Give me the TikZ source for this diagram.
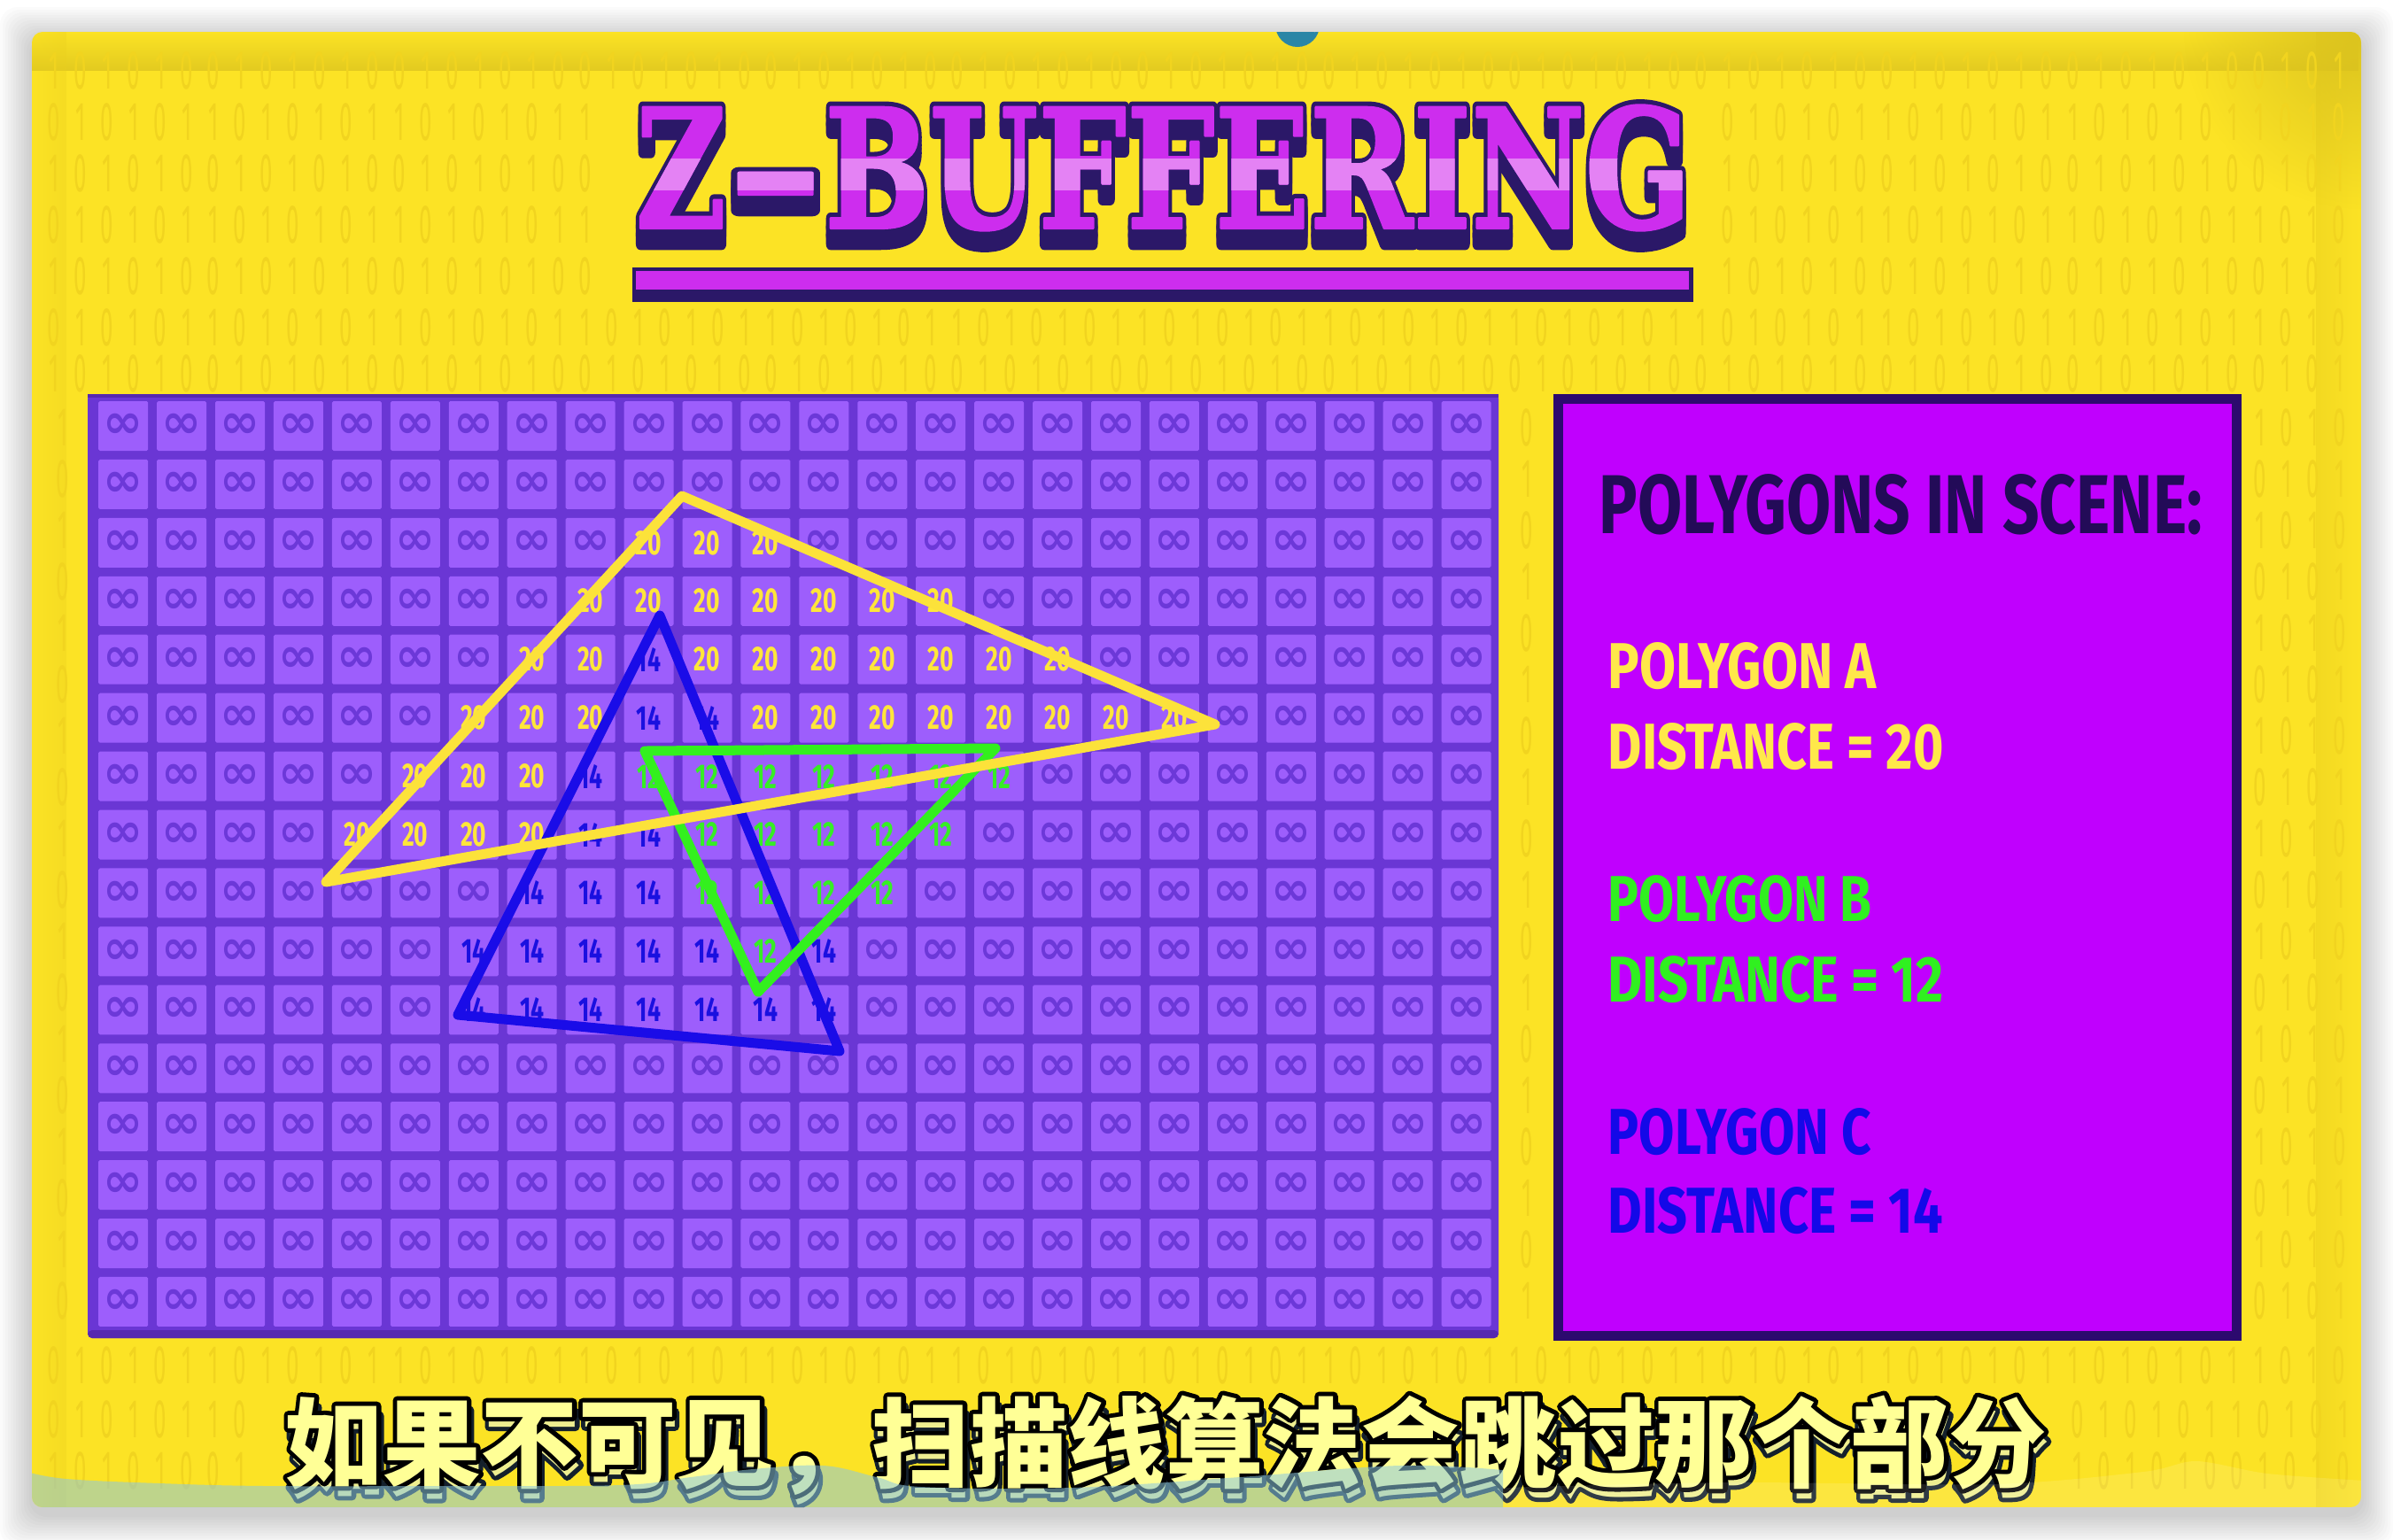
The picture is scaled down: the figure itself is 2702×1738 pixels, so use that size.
\documentclass[tikz,border=0pt]{standalone}
\usepackage{fontspec}
\usetikzlibrary{calc,fadings}
\newfontfamily\zcjk{Noto Sans CJK SC}
\newfontfamily\zcjkO{Noto Sans CJK SC}[FakeBold=9]
\newfontfamily\zfira{Fira Sans}
\newfontfamily\znum{Fira Sans}[FakeStretch=0.68]
\newfontfamily\zbin{Fira Sans}[FakeStretch=0.42, Numbers=Lining]
\newfontfamily\zdv{DejaVu Sans}
\newfontfamily\ztitle{DejaVu Serif}[FakeBold=1.5]
\newfontfamily\ztitleO{DejaVu Serif}[FakeBold=7]
\definecolor{bgy}{HTML}{FCE325}
\definecolor{bgtop}{HTML}{D8C01E}
\definecolor{bgside}{HTML}{EACF1E}
\definecolor{binc}{HTML}{F1D41F}
\definecolor{framec}{HTML}{6A36D4}
\definecolor{framed}{HTML}{5628B0}
\definecolor{cellc}{HTML}{9D5EFC}
\definecolor{infc}{HTML}{6C38D8}
\definecolor{z20}{HTML}{FFE63A}
\definecolor{z12}{HTML}{36EE24}
\definecolor{z14}{HTML}{1A10E0}
\definecolor{triY}{HTML}{FCE23A}
\definecolor{triG}{HTML}{33F01E}
\definecolor{triB}{HTML}{1A0CE8}
\definecolor{panelc}{HTML}{C000FE}
\definecolor{paneld}{HTML}{2C0A6E}
\definecolor{headc}{HTML}{230B58}
\definecolor{titlec}{HTML}{CD2DEE}
\definecolor{titlehl}{HTML}{E482F4}
\definecolor{titled}{HTML}{2B1868}
\definecolor{subfill}{HTML}{FFFF96}
\definecolor{subshfill}{HTML}{EEEE90}
\definecolor{subshadow}{HTML}{14202C}
\definecolor{hillc}{HTML}{8CC8E0}
\definecolor{blobc}{HTML}{2A86A6}
\definecolor{panY}{HTML}{FFE84A}
\definecolor{panG}{HTML}{30F020}
\definecolor{panB}{HTML}{1408E8}
\tikzfading[name=zfade, inner color=transparent!0, outer color=transparent!100]

% grid values
\def\setrow#1#2#3#4{\foreach \cc in {#2,...,#3}{\expandafter\xdef\csname zv-\cc-#1\endcsname{#4}}}
\setrow{2}{9}{11}{20}
\setrow{3}{8}{14}{20}
\setrow{4}{7}{8}{20}\setrow{4}{9}{9}{14}\setrow{4}{10}{16}{20}
\setrow{5}{6}{8}{20}\setrow{5}{9}{10}{14}\setrow{5}{11}{18}{20}
\setrow{6}{5}{7}{20}\setrow{6}{8}{8}{14}\setrow{6}{9}{15}{12}
\setrow{7}{4}{7}{20}\setrow{7}{8}{9}{14}\setrow{7}{10}{14}{12}
\setrow{8}{7}{9}{14}\setrow{8}{10}{13}{12}
\setrow{9}{6}{10}{14}\setrow{9}{11}{11}{12}\setrow{9}{12}{12}{14}
\setrow{10}{6}{12}{14}

% a run of #1 binary digits, pattern seed #2
\newcommand\zbits[2]{\foreach \q in {1,...,#1}{\pgfmathtruncatemacro\zb{mod(\q+#2+floor(\q/7),2)}\makebox[9pt]{\zb}}}
\def\subtxt{如果不可见，扫描线算法会跳过那个部分}
\def\ttlbody{Z\scalebox{1.9}[1]{-}BUFFERING}

\begin{document}
\begin{tikzpicture}[x=0.3pt,y=-0.3pt,
  cell/.style={minimum width=16.8pt, minimum height=16.8pt, inner sep=0pt, fill=cellc, rounded corners=0.5pt},
  infcell/.style={text=infc, font=\zdv\bfseries\fontsize{16.2pt}{16pt}\selectfont},
  numcell/.style={font=\znum\bfseries\fontsize{11.7pt}{12pt}\selectfont},
  tri/.style={line width=3.3pt, line join=round, line cap=round},
  bin/.style={text=binc, inner sep=0pt, anchor=west, font=\zbin\fontsize{18.5pt}{19pt}\selectfont},
  ptxt/.style={inner sep=0pt, anchor=north west},
  subt/.style={inner sep=0pt, anchor=base west, line join=round, font=\zcjk\bfseries\fontsize{33.15pt}{40pt}\selectfont},
  subto/.style={subt, font=\zcjkO\bfseries\fontsize{33.15pt}{40pt}\selectfont},
  ttl/.style={inner sep=0pt, anchor=north west, line join=round}]
\useasboundingbox (0,0) rectangle (2702,1738);
\fill[white] (0,0) rectangle (2702,1738);
% soft shadow of the screen
\foreach \i in {1,...,12}
  \fill[black, opacity=0.016, rounded corners=6pt] ({36-3*\i},{36-3*\i+8}) rectangle ({2666+3*\i},{1702+3*\i+8});

\begin{scope}
\clip[rounded corners=3.6pt] (36,36) rectangle (2666,1702);
\fill[bgy] (36,36) rectangle (2666,1702);
\fill[bgtop, path fading=north, opacity=0.7] (36,36) rectangle (2666,80);
\fill[bgside, path fading=east, opacity=0.5] (2615,36) rectangle (2666,1702);
\fill[bgside, path fading=west, opacity=0.35] (36,36) rectangle (75,1702);
\fill[bgtop, path fading=zfade, opacity=0.9] (2666,36) circle[radius=200];

% faint binary digits in the free areas of the background
\node[bin] (bA1) at (45,80) {\zbits{87}{0}};
\foreach \yy [count=\n] in {138,196,254,312}{
  \node[bin] (bL\n) at (45,\yy) {\zbits{21}{\n}};
  \node[bin] (bR\n) at (1935,\yy) {\zbits{24}{\n}};
}
\node[bin] (bA2) at (45,370) {\zbits{87}{1}};
\node[bin] (bA3) at (45,422) {\zbits{87}{0}};
\foreach \k in {0,...,17}{
  \pgfmathsetmacro\yy{483+58*\k}
  \node[bin] (bM\k) at (55,\yy) {\zbits{1}{\k}};
  \node[bin] (bN\k) at (1708,\yy) {\zbits{1}{\k+1}};
  \node[bin] (bP\k) at (2536,\yy) {\zbits{4}{\k}};
}
\node[bin] (bA4) at (45,1542) {\zbits{87}{1}};
\foreach \yy [count=\n] in {1603,1661}{
  \node[bin] (bSL\n) at (45,\yy) {\zbits{8}{\n}};
  \node[bin] (bSR\n) at (2330,\yy) {\zbits{11}{\n}};
}

% blue blob at top edge
\fill[blobc] (1465,28) circle[radius=25];
\draw[white, line width=0.6pt] (1484,36) arc[start angle=20, end angle=-40, radius=20];

% title
\coordinate (titlepos) at (717,118);
\fill[titled] (714,302) rectangle (1912,341);
\fill[titlec] (718,306) rectangle (1907,327);
\foreach \dy [count=\n] in {0,9,18}
  \node[ttl, text=titled] (tdk\n) at ($(titlepos)+(0,\dy)$) {\resizebox{357.6pt}{41.7pt}{\ztitleO\bfseries\ttlbody}};
\node[ttl, text=titlec] (title) at (titlepos) {\resizebox{357.6pt}{41.7pt}{\ztitle\bfseries\ttlbody}};
\begin{scope}
  \clip (700,179) rectangle (1930,214);
  \node[ttl, text=titlehl] (titlehl) at (titlepos) {\resizebox{357.6pt}{41.7pt}{\ztitle\bfseries\ttlbody}};
\end{scope}

% z-buffer grid
\fill[framec, rounded corners=1.5pt] (99,445) rectangle (1692,1511);
\fill[framed, rounded corners=1.5pt] (99,1502) rectangle (1692,1511);
\fill[framed] (99,445) rectangle (1692,449);
\foreach \c in {0,...,23}{
  \foreach \r in {0,...,15}{
    \ifcsname zv-\c-\r\endcsname
      \edef\zval{\csname zv-\c-\r\endcsname}
      \node[cell, numcell, text=z\zval] (cell-\c-\r) at ({139.2+65.93*\c},{481+65.93*\r}) {\zval};
    \else
      \node[cell, infcell] (cell-\c-\r) at ({139.2+65.93*\c},{481+65.93*\r}) {∞};
    \fi
  }
}

% polygons
\coordinate (YA) at (770,560);
\coordinate (YB) at (1372,818);
\coordinate (YC) at (368,996);
\coordinate (BA) at (745,695);
\coordinate (BB) at (948,1187);
\coordinate (BC) at (517,1146);
\coordinate (GA) at (728,848);
\coordinate (GB) at (1124,845);
\coordinate (GC) at (856,1120);
\draw[tri, triB] (BA) -- (BB) -- (BC) -- cycle;
\draw[tri, triG] (GA) -- (GB) -- (GC) -- cycle;
\draw[tri, triY] (YA) -- (YB) -- (YC) -- cycle;

% legend panel
\fill[paneld] (1754,445) rectangle (2531,1514);
\fill[panelc] (1765,456) rectangle (2520,1503);
\node[ptxt, text=headc] (head) at (1805,535) {\resizebox{204.3pt}{20.1pt}{\zfira\bfseries POLYGONS IN SCENE:}};
\node[ptxt, text=panY] (pa) at (1815,725) {\resizebox{90.9pt}{15.6pt}{\zfira\bfseries POLYGON A}};
\node[ptxt, text=panY] (da) at (1815,816) {\resizebox{113.7pt}{15.6pt}{\zfira\bfseries DISTANCE = 20}};
\node[ptxt, text=panG] (pb) at (1815,988) {\resizebox{89.4pt}{15.6pt}{\zfira\bfseries POLYGON B}};
\node[ptxt, text=panG] (db) at (1815,1079) {\resizebox{113.7pt}{15.6pt}{\zfira\bfseries DISTANCE = 12}};
\node[ptxt, text=panB] (pc) at (1815,1251) {\resizebox{89.1pt}{15.6pt}{\zfira\bfseries POLYGON C}};
\node[ptxt, text=panB] (dc) at (1815,1340) {\resizebox{113.4pt}{15.6pt}{\zfira\bfseries DISTANCE = 14}};

% subtitle: outlined shadow copy, black outline, pale fill
\coordinate (subpos) at (321,1671);
\node[subto, text=subshadow] (subsh) at ($(subpos)+(3,11)$) {\subtxt};
\node[subt, text=subshfill] (subshf) at ($(subpos)+(3,11)$) {\subtxt};
\node[subto, text=black] (subol) at (subpos) {\subtxt};
\node[subt, text=subfill] (sub) at (subpos) {\subtxt};

% translucent landscape at the bottom
\fill[hillc, opacity=0.55] plot[smooth, tension=0.6] coordinates {(30,1662) (75,1670) (180,1675) (300,1678) (500,1678) (700,1677) (780,1668) (850,1659) (930,1655) (990,1668) (1040,1679) (1210,1680) (1400,1668) (1580,1655) (1697,1660)} -- (1697,1710) -- (30,1710) -- cycle;
\fill[white, opacity=0.12] plot[smooth] coordinates {(1697,1680) (1950,1674) (2250,1676) (2420,1662) (2480,1650) (2560,1664) (2670,1672)} -- (2670,1710) -- (1697,1710) -- cycle;
\end{scope}
\end{tikzpicture}
\end{document}
